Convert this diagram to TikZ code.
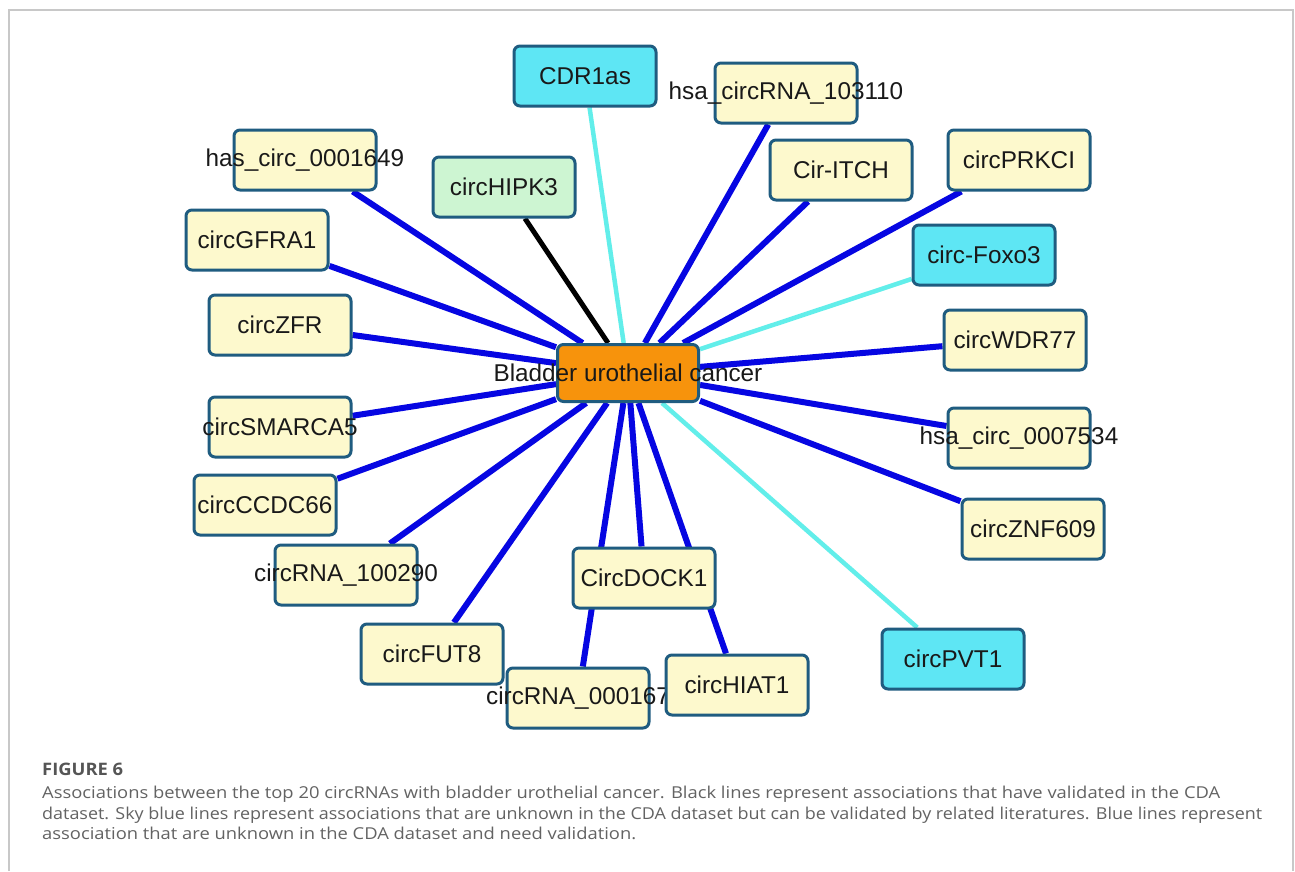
\documentclass[tikz,border=0pt]{standalone}
\usepackage{fontspec}
\setmainfont{Liberation Sans}
\newfontfamily\capfont{Open Sans}
\usetikzlibrary{backgrounds}
\definecolor{nodeyellow}{HTML}{FDF9CD}
\definecolor{nodecyan}{HTML}{5EE6F4}
\definecolor{nodegreen}{HTML}{CDF5D2}
\definecolor{nodeorange}{HTML}{F7930C}
\definecolor{boxborder}{HTML}{1F5C80}
\definecolor{edgeblue}{HTML}{0606E2}
\definecolor{edgesky}{HTML}{62EEEA}
\definecolor{framegray}{HTML}{C8C8C8}
\definecolor{capgray}{HTML}{636363}
\definecolor{figgray}{HTML}{555555}
\newcommand\mkbox[5]{%
  \node[box,#4] (#1) at (#2,#3) {};
  \node[lbl] (#1-l) at (#1.center) {#5};}
\begin{document}
\begin{tikzpicture}[x=1pt,y=-1pt,
  box/.style={draw=boxborder, line width=3pt, rounded corners=6pt,
    minimum width=142pt, minimum height=60pt, inner sep=0pt, fill=nodeyellow},
  ylw/.style={fill=nodeyellow},
  cyn/.style={fill=nodecyan},
  grn/.style={fill=nodegreen},
  org/.style={fill=nodeorange, minimum width=141pt, minimum height=57pt},
  lbl/.style={font=\fontsize{24.3}{28}\selectfont, text=black!90, inner sep=0pt},
  blueedge/.style={draw=edgeblue, line width=6pt},
  skyedge/.style={draw=edgesky, line width=4.5pt},
  blackedge/.style={draw=black, line width=5pt},
  capline/.style={anchor=base west, inner sep=0pt, text=capgray},
  frameline/.style={draw=framegray, line width=1.5pt}]
\useasboundingbox (0,0) rectangle (1295,871);

% frame
\coordinate (fbl) at (9,871);
\coordinate (ftl) at (9,10);
\coordinate (ftr) at (1293,10);
\coordinate (fbr) at (1293,871);
\draw[frameline] (fbl) -- (ftl) -- (ftr) -- (fbr);

% centre node
\node[box,org] (c) at (628,373) {};

% peripheral nodes
\mkbox{cdr}{585}{76}{cyn}{CDR1as}
\mkbox{hsa103110}{786}{93}{ylw}{hsa\_circRNA\_103110}
\mkbox{has1649}{305}{160}{ylw}{has\_circ\_0001649}
\mkbox{hipk}{504}{187}{grn}{circHIPK3}
\mkbox{itch}{841}{170}{ylw}{Cir-ITCH}
\mkbox{prkci}{1019}{160}{ylw}{circPRKCI}
\mkbox{gfra}{257}{240}{ylw}{circGFRA1}
\mkbox{foxo}{984}{255}{cyn}{circ-Foxo3}
\mkbox{zfr}{280}{325}{ylw}{circZFR}
\mkbox{wdr}{1015}{340}{ylw}{circWDR77}
\mkbox{smarca}{280}{427}{ylw}{circSMARCA5}
\mkbox{hsa7534}{1019}{438}{ylw}{hsa\_circ\_0007534}
\mkbox{ccdc}{265}{505}{ylw}{circCCDC66}
\mkbox{znf}{1033}{529}{ylw}{circZNF609}
\mkbox{rna290}{346}{575}{ylw}{circRNA\_100290}
\mkbox{dock}{644}{578}{ylw}{CircDOCK1}
\mkbox{fut}{432}{654}{ylw}{circFUT8}
\mkbox{pvt}{953}{659}{cyn}{circPVT1}
\mkbox{rna167}{578}{698}{ylw}{circRNA\_000167}
\mkbox{hiat}{737}{685}{ylw}{circHIAT1}

\node[lbl] (c-l) at (c.center) {Bladder urothelial cancer};

% edges
\begin{pgfonlayer}{background}
\fill[white] (0,0) rectangle (1295,871);
\foreach \n in {hsa103110,has1649,itch,prkci,gfra,zfr,wdr,smarca,hsa7534,ccdc,znf,rna290,dock,fut,rna167,hiat}
  \draw[blueedge] (c) -- (\n);
\foreach \n in {cdr,foxo,pvt}
  \draw[skyedge] (c) -- (\n);
\draw[blackedge] (c) -- (hipk);
\end{pgfonlayer}

% caption
\node[capline, text=figgray] (figlbl) at (42,775)
  {\resizebox{81pt}{\height}{\capfont\bfseries\fontsize{17.2}{20}\selectfont FIGURE 6}};
\node[capline] (cap1) at (42,798)
  {\resizebox{1178pt}{\height}{\capfont\fontsize{16.4}{20}\selectfont Associations between the top 20 circRNAs with bladder urothelial cancer. Black lines represent associations that have validated in the CDA}};
\node[capline] (cap2) at (42,819)
  {\resizebox{1220pt}{\height}{\capfont\fontsize{16.4}{20}\selectfont dataset. Sky blue lines represent associations that are unknown in the CDA dataset but can be validated by related literatures. Blue lines represent}};
\node[capline] (cap3) at (42,839.5)
  {\resizebox{594pt}{\height}{\capfont\fontsize{16.4}{20}\selectfont association that are unknown in the CDA dataset and need validation.}};
\end{tikzpicture}
\end{document}
